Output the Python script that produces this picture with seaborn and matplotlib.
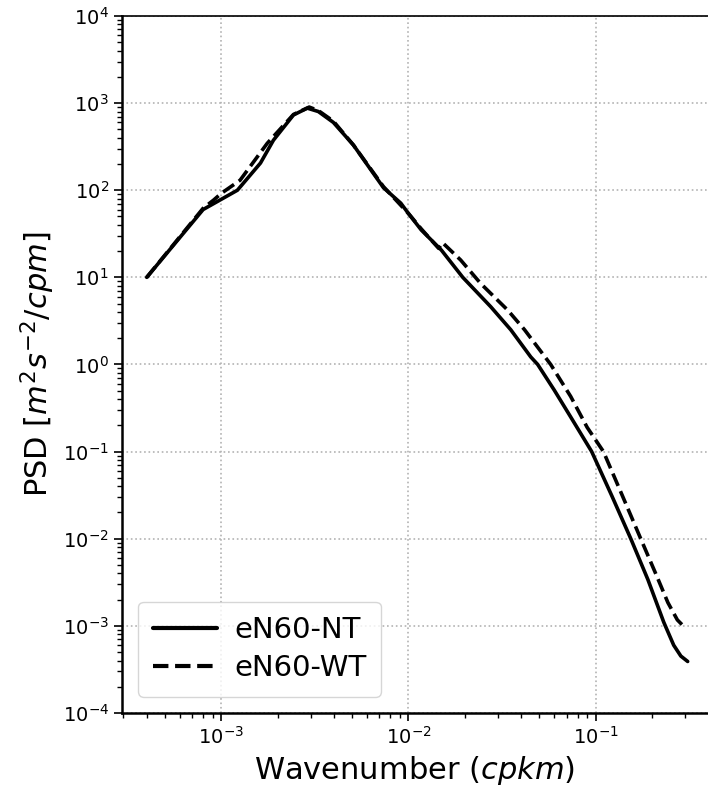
import numpy as np
import pandas as pd
import matplotlib
matplotlib.use("Agg")
import matplotlib.pyplot as plt
import seaborn as sns

# wavenumber (cpkm) and PSD
nt_k = [4e-4, 8e-4, 1.22e-3, 1.62e-3, 1.9e-3, 2.43e-3, 2.88e-3, 3.3e-3, 3.97e-3,
        5.08e-3, 7.35e-3, 9.1e-3, 0.01, 0.0117, 0.015, 0.0195, 0.0275, 0.0352,
        0.045, 0.049, 0.060, 0.0735, 0.0952, 0.122, 0.154, 0.19, 0.231,
        0.261, 0.285, 0.31]
nt_psd = [10, 60, 100, 205, 375, 730, 875, 800, 600,
          330, 107, 71, 54, 35, 20.5, 10, 4.6, 2.5,
          1.22, 1.0, 0.51, 0.25, 0.1, 0.031, 0.01, 3.4e-3, 1.1e-3,
          6.0e-4, 4.5e-4, 3.9e-4]

wt_k = [4e-4, 8e-4, 9.1e-4, 1e-3, 1.26e-3, 1.76e-3, 2.43e-3, 2.95e-3, 3.3e-3,
        3.97e-3, 5.08e-3, 7.35e-3, 0.01, 0.0117, 0.0145, 0.0152, 0.019, 0.0243,
        0.0339, 0.0417, 0.0575, 0.0735, 0.09, 0.11, 0.139, 0.174, 0.21, 0.243,
        0.273, 0.302]
wt_psd = [10, 62, 77, 92, 130, 345, 740, 900, 820,
          620, 330, 110, 54, 36, 21.5, 25, 15.8, 8.5,
          4.2, 2.5, 1.0, 0.43, 0.19, 0.1, 0.031, 0.01, 3.9e-3, 1.85e-3,
          1.17e-3, 9.4e-4]

runs = ["eN60-NT", "eN60-WT"]

df = pd.concat([
    pd.DataFrame({"k": nt_k, "psd": nt_psd, "run": runs[0]}),
    pd.DataFrame({"k": wt_k, "psd": wt_psd, "run": runs[1]}),
])

sns.set_style("ticks", {"axes.edgecolor": "black", "text.color": "black",
                        "axes.labelcolor": "black", "xtick.color": "black",
                        "ytick.color": "black"})
plt.rcParams["font.family"] = ["DejaVu Sans"]

fig = plt.figure(figsize=(7.08, 7.9), dpi=100)
ax = fig.add_axes([0.1723, 0.0975, 0.8277, 0.8823])

sns.lineplot(data=df, x="k", y="psd", style="run", color="black",
             dashes={runs[0]: "", runs[1]: (3.7, 1.6)},
             linewidth=2.6, estimator=None, sort=False, ax=ax)

ax.set_xscale("log")
ax.set_yscale("log")
ax.set_xlim(2.95e-4, 0.398)
ax.set_ylim(1e-4, 1e4)
ax.set_yticks([10.0 ** e for e in range(-4, 5)])

ax.grid(True, which="major", linestyle=":", color="0.7", linewidth=1.2)
ax.spines["right"].set_visible(False)
ax.spines["left"].set_linewidth(1.8)
ax.spines["bottom"].set_linewidth(1.8)
ax.spines["top"].set_linewidth(1.2)
ax.tick_params(axis="both", which="major", labelsize=14, length=6, width=1.2)
ax.tick_params(axis="both", which="minor", length=3.5, width=1.0)

ax.set_xlabel("Wavenumber ($cpkm$)", fontsize=22)
ax.set_ylabel("PSD [$m^2s^{-2}/cpm$]", fontsize=22)

leg = ax.legend(loc="lower left", fontsize=21, handlelength=2.2,
                handletextpad=0.6, borderaxespad=0.55, borderpad=0.5,
                labelspacing=0.35)
for line in leg.get_lines():
    line.set_linewidth(3)

fig.savefig("out.png", dpi=100)
